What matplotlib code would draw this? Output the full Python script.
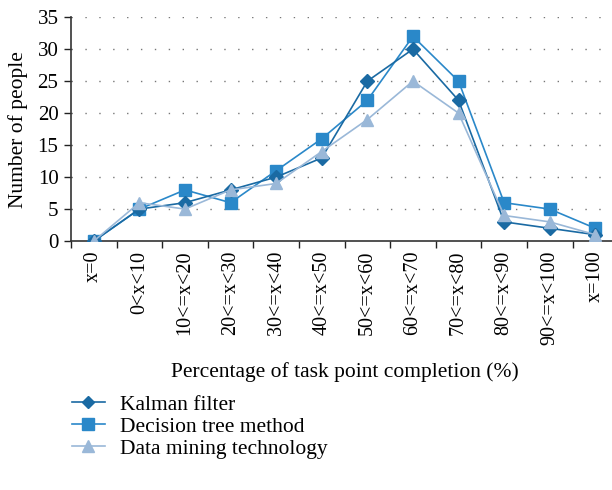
import matplotlib
matplotlib.use("Agg")
import matplotlib.pyplot as plt
from matplotlib.ticker import MultipleLocator, FixedLocator
from matplotlib.lines import Line2D

categories = ["x=0", "0<x<10", "10<=x<20", "20<=x<30", "30<=x<40", "40<=x<50",
              "50<=x<60", "60<=x<70", "70<=x<80", "80<=x<90", "90<=x<100", "x=100"]
kalman = [0, 5, 6, 8, 10, 13, 25, 30, 22, 3, 2, 1]
decision_tree = [0, 5, 8, 6, 11, 16, 22, 32, 25, 6, 5, 2]
data_mining = [0, 6, 5, 8, 9, 14, 19, 25, 20, 4, 3, 1]

plt.rcParams['font.family'] = ['Liberation Serif', 'DejaVu Serif']

fig = plt.figure(figsize=(6.12, 4.9), dpi=100)
ax = fig.add_axes([0.116, 0.508, 0.894, 0.457])

x = list(range(len(categories)))
ax.plot(x, kalman, color='#1a6aa3', marker='D', markersize=7, lw=1.2, label='Kalman filter', zorder=4)
ax.plot(x, decision_tree, color='#2a88c9', marker='s', markersize=9, lw=1.2, label='Decision tree method', zorder=3)
ax.plot(x, data_mining, color='#9ab8d8', marker='^', markersize=9, lw=1.2, label='Data mining technology', zorder=5)

ax.set_xlim(-0.5, 11.5)
ax.set_ylim(0, 35)
ax.yaxis.set_major_locator(MultipleLocator(5))
ax.set_xticks(x)
ax.set_xticklabels(categories, rotation=90, fontsize=14.5)
ax.xaxis.set_minor_locator(FixedLocator([i - 0.5 for i in range(13)]))
ax.tick_params(axis='x', which='major', length=0, pad=7)
ax.tick_params(axis='x', which='minor', length=5, width=1, color='#222222', direction='out')
ax.tick_params(axis='y', length=5, width=1, color='#222222', labelsize=15, pad=4)

for v in range(5, 40, 5):
    ax.axhline(v, color='#777777', lw=1.0, linestyle=(0, (1, 9)), zorder=1)

for s in ['top', 'right']:
    ax.spines[s].set_visible(False)
ax.spines['left'].set_color('#333333')
ax.spines['bottom'].set_color('#333333')
ax.spines['left'].set_linewidth(1.2)
ax.spines['bottom'].set_linewidth(1.2)

ax.set_ylabel('Number of people', fontsize=15.5, labelpad=7)
ax.set_xlabel('Percentage of task point completion (%)', fontsize=15.5, labelpad=12)

h = [Line2D([], [], color='#1a6aa3', marker='D', markersize=6, lw=1.2),
     Line2D([], [], color='#2a88c9', marker='s', markersize=8, lw=1.2),
     Line2D([], [], color='#9ab8d8', marker='^', markersize=8, lw=1.2)]
fig.legend(h, ['Kalman filter', 'Decision tree method', 'Data mining technology'],
           loc='upper left', bbox_to_anchor=(0.117, 0.195), frameon=False, fontsize=15.5,
           handlelength=1.55, labelspacing=0.1, handletextpad=0.7, borderaxespad=0, borderpad=0)

fig.savefig('out.png', dpi=100)
